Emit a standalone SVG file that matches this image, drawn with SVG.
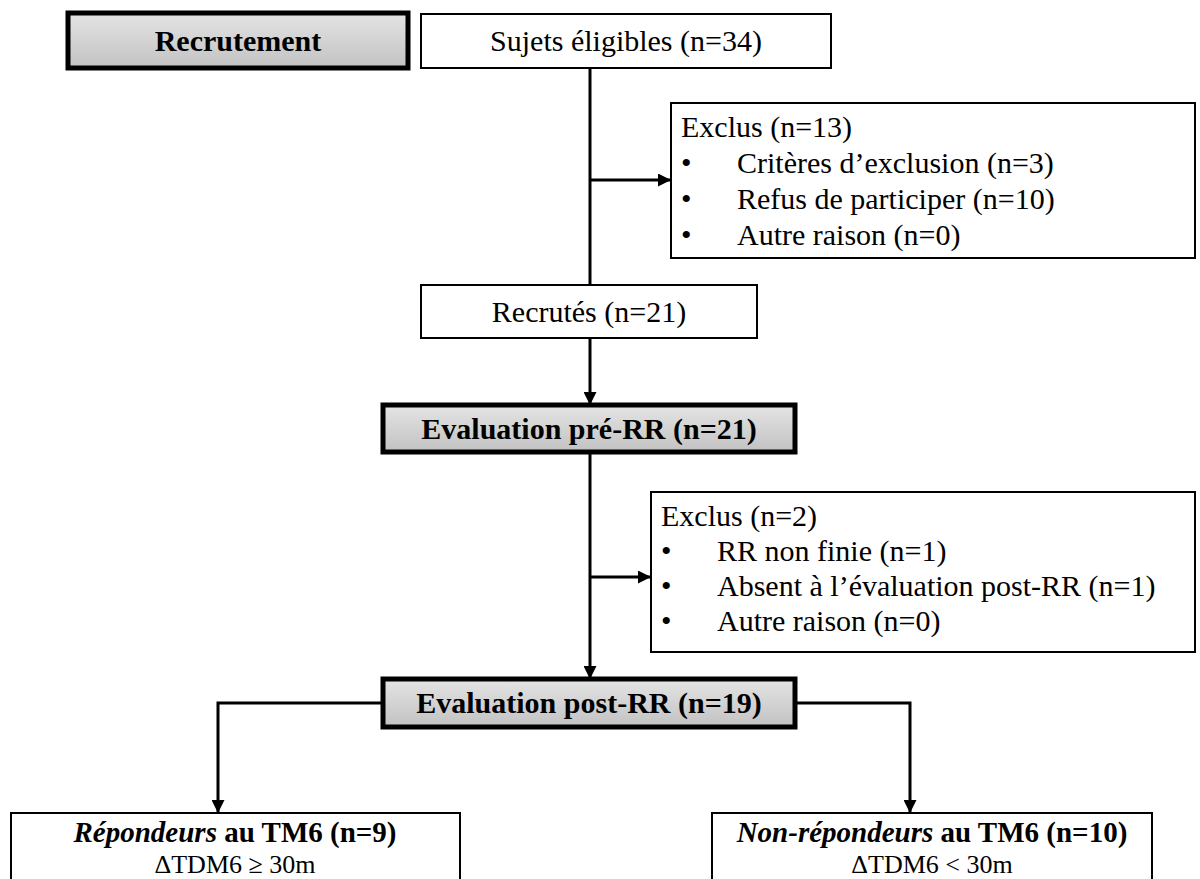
<svg xmlns="http://www.w3.org/2000/svg" width="1200" height="879" viewBox="0 0 1200 879">
<defs>
<linearGradient id="g" x1="0" y1="0" x2="0" y2="1"><stop offset="0" stop-color="#e4e4e4"/><stop offset="1" stop-color="#c2c2c2"/></linearGradient>
<marker id="ah" markerWidth="13" markerHeight="13" refX="12" refY="6.5" orient="auto" markerUnits="userSpaceOnUse"><path d="M0,0 L13,6.5 L0,13 Z" fill="#000"/></marker>
<style>
.thick{fill:url(#g);stroke:#000;stroke-width:5}
.thin{fill:#fff;stroke:#000;stroke-width:2}
text{font-family:"Liberation Serif","Times New Roman","DejaVu Serif",serif;font-size:30px;fill:#000}
.b{font-weight:bold}
.c{text-anchor:middle}
.l1{font-size:29px}
.l2{font-size:26px}
.conn{fill:none;stroke:#000;stroke-width:3}
</style>
</defs>
<rect width="1200" height="879" fill="#fff"/>
<g id="connectors">
<path class="conn" d="M590,68 V285"/>
<path class="conn" d="M590,180 H670" marker-end="url(#ah)"/>
<path class="conn" d="M590,338 V404" marker-end="url(#ah)"/>
<path class="conn" d="M590,452 V678" marker-end="url(#ah)"/>
<path class="conn" d="M590,577 H650" marker-end="url(#ah)"/>
<path class="conn" d="M383,703 H218 V812" marker-end="url(#ah)"/>
<path class="conn" d="M795,703 H910 V812" marker-end="url(#ah)"/>
</g>
<g id="recrutement"><rect class="thick" x="68" y="13" width="340" height="55"/><text class="b c" x="238" y="51">Recrutement</text></g>
<g id="sujets"><rect class="thin" x="421" y="14" width="410" height="54"/><text class="c" x="626" y="51">Sujets éligibles (n=34)</text></g>
<g id="exclus1"><rect class="thin" x="671" y="103" width="524" height="155"/>
<text x="681" y="137">Exclus (n=13)</text>
<text x="681" y="173">•</text><text x="737" y="173">Critères d’exclusion (n=3)</text>
<text x="681" y="209">•</text><text x="737" y="209">Refus de participer (n=10)</text>
<text x="681" y="245">•</text><text x="737" y="245">Autre raison (n=0)</text></g>
<g id="recrutes"><rect class="thin" x="421" y="285" width="336" height="53"/><text class="c" x="589" y="322">Recrutés (n=21)</text></g>
<g id="evalpre"><rect class="thick" x="383" y="405" width="412" height="47"/><text class="b c" x="589" y="439">Evaluation pré-RR (n=21)</text></g>
<g id="exclus2"><rect class="thin" x="651" y="492" width="544" height="160"/>
<text x="661" y="526">Exclus (n=2)</text>
<text x="661" y="561">•</text><text x="717" y="561">RR non finie (n=1)</text>
<text x="661" y="596">•</text><text x="717" y="596">Absent à l’évaluation post-RR (n=1)</text>
<text x="661" y="631">•</text><text x="717" y="631">Autre raison (n=0)</text></g>
<g id="evalpost"><rect class="thick" x="383" y="679" width="412" height="48"/><text class="b c" x="589" y="713">Evaluation post-RR (n=19)</text></g>
<g id="repondeurs"><rect class="thin" x="11" y="813" width="449" height="80"/>
<text class="c l1" x="235" y="842"><tspan class="b" font-style="italic">Répondeurs</tspan><tspan class="b"> au TM6 (n=9)</tspan></text>
<text class="c l2" x="235" y="873">ΔTDM6 ≥ 30m</text></g>
<g id="nonrepondeurs"><rect class="thin" x="712" y="813" width="440" height="80"/>
<text class="c l1" x="932" y="842"><tspan class="b" font-style="italic">Non-répondeurs</tspan><tspan class="b"> au TM6 (n=10)</tspan></text>
<text class="c l2" x="932" y="873">ΔTDM6 &lt; 30m</text></g>
</svg>
